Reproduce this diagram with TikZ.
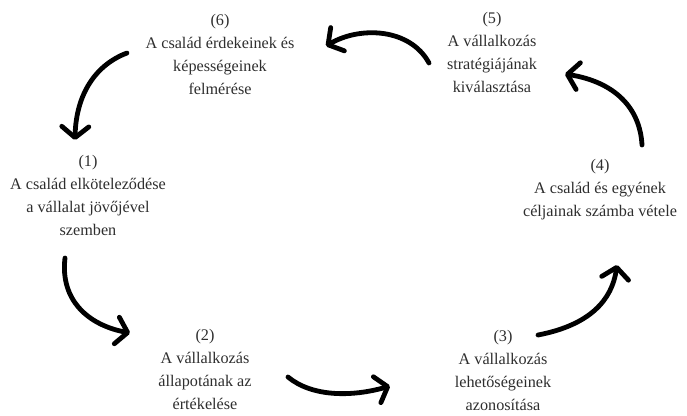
\documentclass[tikz,border=0pt]{standalone}
\usepackage{fontspec}
\setmainfont{Liberation Serif}
\usetikzlibrary{arrows.meta}
\definecolor{inkgray}{HTML}{2E2E2E}
\begin{document}
\begin{tikzpicture}[x=1pt,y=-1pt,
  step label/.style={align=center, text=inkgray, font=\fontsize{16.2}{23}\selectfont, inner sep=0pt},
  brush/.style={line width=4.8pt, line cap=round, black,
    -{Straight Barb[length=11pt,width=27pt,line width=4.8pt,round]}}]
\useasboundingbox (0,0) rectangle (687,415);

% the six stages of the cycle
\node[step label] (n6) at (220,54) {(6)\\A család érdekeinek és\\képességeinek\\felmérése};
\node[step label] (n5) at (492,52) {(5)\\A vállalkozás\\stratégiájának\\kiválasztása};
\node[step label] (n1) at (88,195) {(1)\\A család elköteleződése\\a vállalat jövőjével\\szemben};
\node[step label] (n4) at (600,190) {(4)\\A család és egyének\\céljainak számba vétele};
\node[step label] (n2) at (205,369) {(2)\\A vállalkozás\\állapotának az\\értékelése};
\node[step label] (n3) at (503,370) {(3)\\A vállalkozás\\lehetőségeinek\\azonosítása};

% arrow end points
\coordinate (a61) at (127,53);  \coordinate (b61) at (75,140);
\coordinate (a56) at (429,63);  \coordinate (b56) at (326,46);
\coordinate (a45) at (642,145); \coordinate (b45) at (565,74);
\coordinate (a12) at (65,258);  \coordinate (b12) at (130,333);
\coordinate (a23) at (288,377); \coordinate (b23) at (390,386);
\coordinate (a34) at (538,335); \coordinate (b34) at (617,265);

% curved arrows running around the cycle
\draw[brush] (a61) .. controls (95,65) and (76,95) .. (b61);
\draw[brush] (a56) .. controls (410,28) and (360,26) .. (b56);
\draw[brush] (a45) .. controls (640,108) and (615,82) .. (b45);
\draw[brush] (a12) .. controls (60,300) and (88,325) .. (b12);
\draw[brush] (a23) .. controls (312,397) and (352,397) .. (b23);
\draw[brush] (a34) .. controls (590,325) and (612,300) .. (b34);
\end{tikzpicture}
\end{document}
